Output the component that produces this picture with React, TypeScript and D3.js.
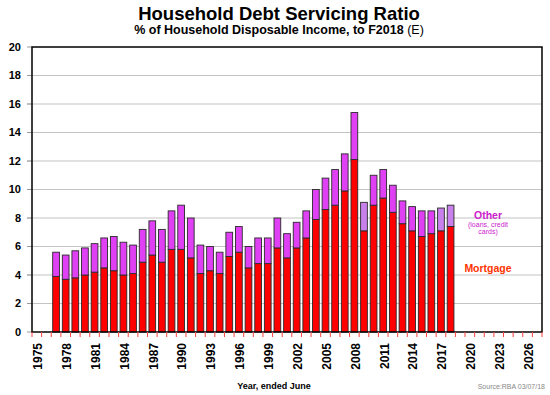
import React from 'react';
import * as d3 from 'd3';

// Years shown on the x axis (category slots)
const axisYears: number[] = d3.range(1975, 2028);
const labelYears: number[] = [1975, 1978, 1981, 1984, 1987, 1990, 1993, 1996, 1999, 2002, 2005, 2008, 2011, 2014, 2017, 2020, 2023, 2026];

// Debt servicing ratio, % of household disposable income
const barYears: number[] = [
  1977, 1978, 1979, 1980, 1981, 1982, 1983, 1984, 1985, 1986, 1987, 1988, 1989, 1990,
  1991, 1992, 1993, 1994, 1995, 1996, 1997, 1998, 1999, 2000, 2001, 2002, 2003, 2004,
  2005, 2006, 2007, 2008, 2009, 2010, 2011, 2012, 2013, 2014, 2015, 2016, 2017, 2018,
];
const mortgage: number[] = [
  3.9, 3.7, 3.8, 4.0, 4.2, 4.5, 4.3, 4.0, 4.1, 4.9, 5.4, 4.9, 5.8, 5.8,
  5.2, 4.1, 4.3, 4.1, 5.3, 5.6, 4.5, 4.8, 4.8, 5.9, 5.2, 5.9, 6.6, 7.9,
  8.6, 8.9, 9.9, 12.1, 7.1, 8.9, 9.4, 8.4, 7.6, 7.1, 6.7, 6.9, 7.1, 7.4,
];
const other: number[] = [
  1.7, 1.7, 1.9, 1.9, 2.0, 2.1, 2.4, 2.3, 2.0, 2.3, 2.4, 2.3, 2.7, 3.1,
  2.8, 2.0, 1.7, 1.5, 1.7, 1.8, 1.5, 1.8, 1.8, 2.1, 1.7, 1.8, 1.9, 2.1,
  2.2, 2.5, 2.6, 3.3, 2.0, 2.1, 2.0, 1.9, 1.6, 1.7, 1.8, 1.6, 1.6, 1.5,
];
// years where the "other" segment is drawn in the paler shade
const paleYears: number[] = [2009, 2017, 2018];

const yTicks: number[] = [0, 2, 4, 6, 8, 10, 12, 14, 16, 18, 20];

const FONT = '"Liberation Sans", Arial, sans-serif';

export default function App() {
  const width = 550;
  const height = 395;
  const margin = { top: 47, right: 8, bottom: 63, left: 32 };
  const plotRight = width - margin.right;
  const plotBottom = height - margin.bottom;

  const x = d3
    .scaleBand<number>()
    .domain(axisYears)
    .range([margin.left, plotRight])
    .paddingInner(0.3)
    .paddingOuter(0.15);

  const y = d3.scaleLinear().domain([0, 20]).range([plotBottom, margin.top]);

  const rows = barYears.map((yr, i) => ({ year: yr, mortgage: mortgage[i], other: other[i] }));
  const stack = d3.stack<any>().keys(['mortgage', 'other']);
  const series = stack(rows);

  const step = x.step();
  const gap = step * 0.15;
  const tickXs = axisYears.map((yr) => (x(yr) as number) - gap).concat([plotRight]);

  return (
    <svg
      width={width}
      height={height}
      style={{ position: 'absolute', left: 0, top: 0, background: '#fff' }}
      fontFamily={FONT}
    >
      {/* titles */}
      <text x={279} y={20} textAnchor="middle" fontSize={18.5} fontWeight="bold">
        Household Debt Servicing Ratio
      </text>
      <text x={279} y={34} textAnchor="middle" fontSize={12.5}>
        <tspan fontWeight="bold">% of Household Disposable Income, to F2018</tspan>
        <tspan> (E)</tspan>
      </text>

      {/* gridlines and y ticks */}
      {yTicks.map((t) => (
        <g key={t}>
          {t > 0 && t < 20 && (
            <line x1={27} x2={plotRight} y1={y(t)} y2={y(t)} stroke="#c4c4c4" strokeWidth={1.2} />
          )}
          <line x1={27} x2={margin.left} y1={y(t)} y2={y(t)} stroke="#999" strokeWidth={1} />
          <text x={21} y={y(t)} dy="0.35em" textAnchor="end" fontSize={11} fontWeight="bold">
            {t}
          </text>
        </g>
      ))}

      {/* bars */}
      {series.map((s) =>
        s.map((d: any) => {
          const yr = d.data.year;
          const pale = s.key === 'other' && paleYears.includes(yr);
          const fill = s.key === 'mortgage' ? '#ff0000' : pale ? '#c880ec' : '#e040f4';
          return (
            <rect
              key={s.key + yr}
              x={x(yr)}
              width={x.bandwidth()}
              y={y(d[1])}
              height={y(d[0]) - y(d[1])}
              fill={fill}
              stroke="#2a2a2a"
              strokeWidth={0.9}
            />
          );
        })
      )}

      {/* frame */}
      <rect
        x={margin.left}
        y={margin.top}
        width={plotRight - margin.left}
        height={plotBottom - margin.top}
        fill="none"
        stroke="#000"
        strokeWidth={1.5}
      />

      {/* x ticks */}
      {tickXs.map((tx, i) => (
        <line key={i} x1={tx} x2={tx} y1={plotBottom} y2={plotBottom + 5} stroke="#ff4040" strokeWidth={1} />
      ))}
      {labelYears.map((yr) => {
        const cx = (x(yr) as number) + x.bandwidth() / 2 + 1;
        return (
          <text
            key={yr}
            transform={`translate(${cx},${plotBottom + 11}) rotate(-90)`}
            textAnchor="end"
            dy="0.36em"
            fontSize={12}
            fontWeight="bold"
          >
            {yr}
          </text>
        );
      })}

      {/* legend labels */}
      <text x={488} y={219} textAnchor="middle" fontSize={10.5} fontWeight="bold" fill="#cc22cc">
        Other
      </text>
      <text x={488} y={226.5} textAnchor="middle" fontSize={7} fill="#cc22cc">
        (loans, credit
      </text>
      <text x={488} y={233.5} textAnchor="middle" fontSize={7} fill="#cc22cc">
        cards)
      </text>
      <text x={488} y={272} textAnchor="middle" fontSize={10.5} fontWeight="bold" fill="#ff3300">
        Mortgage
      </text>

      {/* axis title and source */}
      <text x={274} y={389} textAnchor="middle" fontSize={9} fontWeight="bold">
        Year, ended June
      </text>
      <text x={545} y={389} textAnchor="end" fontSize={7} fill="#888">
        Source:RBA  03/07/18
      </text>
    </svg>
  );
}
